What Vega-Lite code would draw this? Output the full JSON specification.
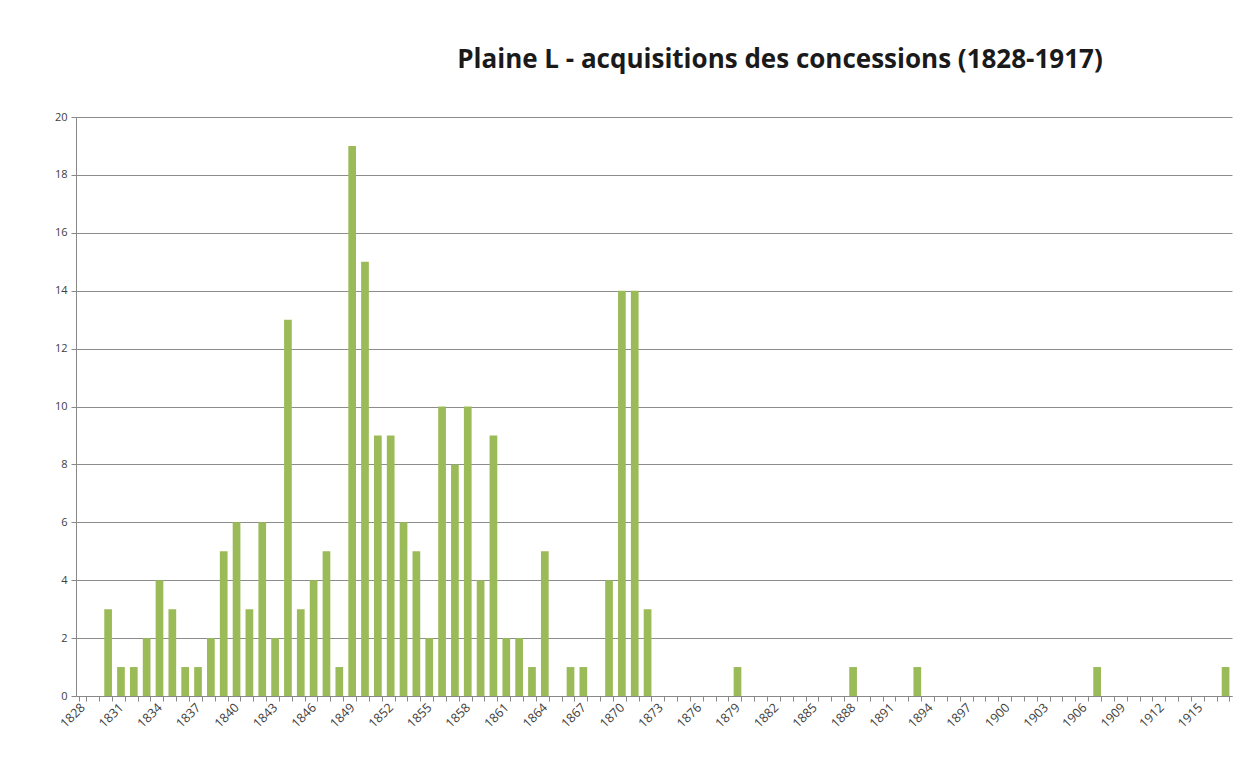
{
  "$schema": "https://vega.github.io/schema/vega-lite/v6.json",
  "autosize": {"type": "none"},
  "width": 1156,
  "height": 579,
  "padding": {"left": 76, "top": 117, "right": 10, "bottom": 87},
  "background": "white",
  "title": {
    "text": "Plaine L - acquisitions des concessions (1828-1917)",
    "anchor": "middle",
    "dx": 126,
    "offset": 38,
    "font": "Open Sans",
    "fontSize": 26,
    "fontWeight": "bold",
    "color": "#1a1a1a"
  },
  "data": {
    "values": [
      {"year": 1828, "n": 0}, {"year": 1829, "n": 0}, {"year": 1830, "n": 3}, {"year": 1831, "n": 1},
      {"year": 1832, "n": 1}, {"year": 1833, "n": 2}, {"year": 1834, "n": 4}, {"year": 1835, "n": 3},
      {"year": 1836, "n": 1}, {"year": 1837, "n": 1}, {"year": 1838, "n": 2}, {"year": 1839, "n": 5},
      {"year": 1840, "n": 6}, {"year": 1841, "n": 3}, {"year": 1842, "n": 6}, {"year": 1843, "n": 2},
      {"year": 1844, "n": 13}, {"year": 1845, "n": 3}, {"year": 1846, "n": 4}, {"year": 1847, "n": 5},
      {"year": 1848, "n": 1}, {"year": 1849, "n": 19}, {"year": 1850, "n": 15}, {"year": 1851, "n": 9},
      {"year": 1852, "n": 9}, {"year": 1853, "n": 6}, {"year": 1854, "n": 5}, {"year": 1855, "n": 2},
      {"year": 1856, "n": 10}, {"year": 1857, "n": 8}, {"year": 1858, "n": 10}, {"year": 1859, "n": 4},
      {"year": 1860, "n": 9}, {"year": 1861, "n": 2}, {"year": 1862, "n": 2}, {"year": 1863, "n": 1},
      {"year": 1864, "n": 5}, {"year": 1865, "n": 0}, {"year": 1866, "n": 1}, {"year": 1867, "n": 1},
      {"year": 1868, "n": 0}, {"year": 1869, "n": 4}, {"year": 1870, "n": 14}, {"year": 1871, "n": 14},
      {"year": 1872, "n": 3}, {"year": 1873, "n": 0}, {"year": 1874, "n": 0}, {"year": 1875, "n": 0},
      {"year": 1876, "n": 0}, {"year": 1877, "n": 0}, {"year": 1878, "n": 0}, {"year": 1879, "n": 1},
      {"year": 1880, "n": 0}, {"year": 1881, "n": 0}, {"year": 1882, "n": 0}, {"year": 1883, "n": 0},
      {"year": 1884, "n": 0}, {"year": 1885, "n": 0}, {"year": 1886, "n": 0}, {"year": 1887, "n": 0},
      {"year": 1888, "n": 1}, {"year": 1889, "n": 0}, {"year": 1890, "n": 0}, {"year": 1891, "n": 0},
      {"year": 1892, "n": 0}, {"year": 1893, "n": 1}, {"year": 1894, "n": 0}, {"year": 1895, "n": 0},
      {"year": 1896, "n": 0}, {"year": 1897, "n": 0}, {"year": 1898, "n": 0}, {"year": 1899, "n": 0},
      {"year": 1900, "n": 0}, {"year": 1901, "n": 0}, {"year": 1902, "n": 0}, {"year": 1903, "n": 0},
      {"year": 1904, "n": 0}, {"year": 1905, "n": 0}, {"year": 1906, "n": 0}, {"year": 1907, "n": 1},
      {"year": 1908, "n": 0}, {"year": 1909, "n": 0}, {"year": 1910, "n": 0}, {"year": 1911, "n": 0},
      {"year": 1912, "n": 0}, {"year": 1913, "n": 0}, {"year": 1914, "n": 0}, {"year": 1915, "n": 0},
      {"year": 1916, "n": 0}, {"year": 1917, "n": 1}
    ]
  },
  "mark": {"type": "bar", "color": "#9bbb59"},
  "encoding": {
    "x": {
      "field": "year",
      "type": "ordinal",
      "scale": {"paddingInner": 0.4, "paddingOuter": 0.2},
      "axis": {
        "title": null,
        "labelAngle": -45,
        "labelAlign": "right",
        "labelBaseline": "middle",
        "labelOverlap": false,
        "labelExpr": "(datum.value - 1828) % 3 == 0 ? datum.label : ''",
        "labelFont": "Open Sans",
        "labelFontSize": 12.5,
        "labelColor": "#404040",
        "labelPadding": 4,
        "tickBand": "extent",
        "tickSize": 5,
        "tickColor": "#888888",
        "domainColor": "#888888",
        "grid": false
      }
    },
    "y": {
      "field": "n",
      "type": "quantitative",
      "scale": {"domain": [0, 20], "nice": false},
      "axis": {
        "title": null,
        "values": [0, 2, 4, 6, 8, 10, 12, 14, 16, 18, 20],
        "labelFont": "Open Sans",
        "labelFontSize": 11,
        "labelColor": "#404040",
        "labelPadding": 4,
        "tickSize": 5,
        "tickColor": "#888888",
        "domainColor": "#888888",
        "grid": true,
        "gridColor": "#8c8c8c",
        "gridWidth": 1
      }
    }
  },
  "config": {"view": {"stroke": null}}
}
